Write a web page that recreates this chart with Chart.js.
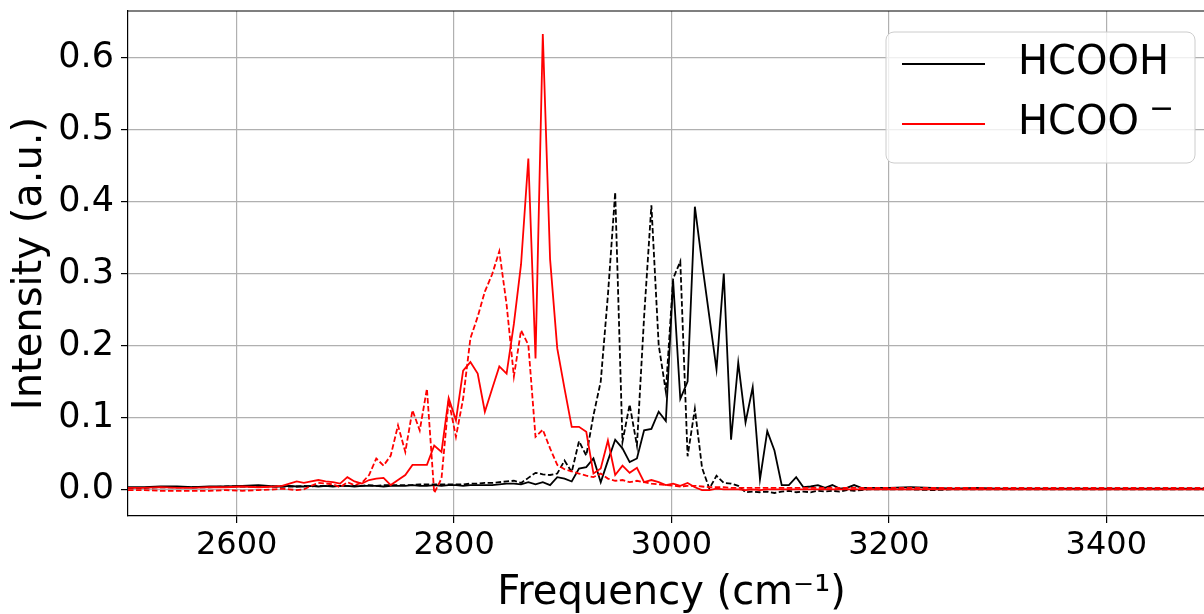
<!DOCTYPE html>
<html>
<head>
<meta charset="utf-8">
<script src="https://cdn.jsdelivr.net/npm/chart.js@4/dist/chart.umd.min.js"></script>
<style>
  html, body { margin: 0; padding: 0; overflow: hidden; background: #fff; }
  canvas { display: block; }
</style>
</head>
<body>
<canvas id="myChart" width="1215" height="614"></canvas>
<script>
// frequency grid (cm-1)
var freq = [
  2500, 2515, 2530, 2545, 2560, 2575, 2590, 2605, 2620, 2635,
  2641.8, 2648.5, 2655.2, 2661.8, 2668.5, 2675.1, 2681.8, 2688.5, 2695.1, 2701.8,
  2708.4, 2715.1, 2721.8, 2728.4, 2735.1, 2741.7, 2748.4, 2755.1, 2761.7, 2768.4,
  2775.0, 2781.7, 2788.4, 2795.0, 2801.7, 2808.3, 2815.0, 2821.7, 2828.3, 2835.0,
  2841.6, 2848.3, 2855.0, 2861.6, 2868.3, 2874.9, 2881.6, 2888.3, 2894.9, 2901.6,
  2908.2, 2914.9, 2921.6, 2928.2, 2934.9, 2941.5, 2948.2, 2954.9, 2961.5, 2968.2,
  2974.8, 2981.5, 2988.2, 2994.8, 3001.5, 3008.1, 3014.8, 3021.5, 3028.1, 3034.8,
  3041.4, 3048.1, 3054.8, 3061.4, 3068.1, 3074.7, 3081.4, 3088.1, 3094.7, 3101.4,
  3108.0, 3114.7, 3121.4, 3128.0, 3134.7, 3141.3, 3148.0, 3154.7, 3161.3, 3168.0,
  3174.6, 3181.3,
  3200, 3220, 3240, 3260, 3280, 3300, 3320, 3340, 3360, 3380, 3400, 3420, 3440, 3460, 3480, 3500
];

// HCOOH, solid
var hcoohSolid = [
  0.003, 0.003, 0.004, 0.004, 0.003, 0.004, 0.004, 0.005, 0.006, 0.004,
  0.004, 0.005, 0.004, 0.004, 0.005, 0.004, 0.005, 0.004, 0.005, 0.005,
  0.004, 0.005, 0.005, 0.005, 0.004, 0.005, 0.005, 0.005, 0.006, 0.005,
  0.005, 0.006, 0.005, 0.006, 0.006, 0.005, 0.006, 0.006, 0.006, 0.006,
  0.007, 0.008, 0.008, 0.007, 0.010, 0.007, 0.010, 0.006, 0.017, 0.015,
  0.011, 0.029, 0.031, 0.043, 0.010, 0.040, 0.069, 0.057, 0.038, 0.043,
  0.082, 0.084, 0.108, 0.095, 0.290, 0.126, 0.150, 0.393, 0.315, 0.240,
  0.167, 0.300, 0.069, 0.176, 0.093, 0.142, 0.014, 0.081, 0.054, 0.006,
  0.006, 0.017, 0.003, 0.004, 0.006, 0.002, 0.006, 0.001, 0.002, 0.006,
  0.002, 0.002,
  0.002, 0.003, 0.002, 0.001, 0.002, 0.001, 0.001, 0.001, 0.001, 0.001, 0.001, 0.001, 0.001, 0.001, 0.001, 0.001
];

// HCOOH, dashed
var hcoohDashed = [
  0.002, 0.002, 0.003, 0.003, 0.003, 0.003, 0.004, 0.004, 0.004, 0.004,
  0.004, 0.004, 0.004, 0.005, 0.004, 0.005, 0.005, 0.005, 0.005, 0.005,
  0.005, 0.005, 0.006, 0.005, 0.006, 0.006, 0.006, 0.006, 0.006, 0.007,
  0.007, 0.007, 0.007, 0.007, 0.007, 0.007, 0.008, 0.008, 0.009, 0.009,
  0.010, 0.011, 0.012, 0.009, 0.016, 0.023, 0.021, 0.020, 0.022, 0.040,
  0.024, 0.067, 0.047, 0.103, 0.150, 0.270, 0.413, 0.066, 0.118, 0.061,
  0.240, 0.395, 0.201, 0.136, 0.293, 0.317, 0.046, 0.112, 0.030, 0.001,
  0.019, 0.009, 0.008, 0.005, -0.004, -0.003, -0.004, -0.003, -0.005, -0.003,
  -0.002, -0.004, -0.003, -0.004, -0.002, -0.003, -0.002, -0.003, -0.001, -0.002,
  -0.001, 0.000,
  0.000, 0.000, -0.001, 0.000, 0.000, 0.000, 0.000, 0.000, 0.000, 0.000, 0.000, 0.000, 0.000, 0.000, 0.000, 0.000
];

// HCOO-, solid
var hcooSolid = [
  0.002, 0.002, 0.003, 0.002, 0.002, 0.003, 0.003, 0.004, 0.003, 0.004,
  0.005, 0.008, 0.011, 0.009, 0.011, 0.013, 0.011, 0.010, 0.008, 0.017,
  0.011, 0.008, 0.013, 0.015, 0.016, 0.006, 0.013, 0.020, 0.034, 0.034,
  0.034, 0.061, 0.052, 0.127, 0.096, 0.165, 0.177, 0.161, 0.108, 0.140,
  0.171, 0.161, 0.230, 0.313, 0.460, 0.182, 0.633, 0.320, 0.196, 0.140,
  0.087, 0.087, 0.080, 0.022, 0.029, 0.068, 0.020, 0.033, 0.023, 0.030,
  0.010, 0.013, 0.010, 0.006, 0.008, 0.005, 0.009, 0.003, -0.001, -0.001,
  0.001, 0.000, 0.000, 0.000, -0.001, 0.000, -0.001, 0.000, 0.000, 0.000,
  0.000, 0.000, 0.000, 0.000, 0.000, 0.000, 0.000, 0.000, 0.000, 0.000,
  0.000, 0.000,
  0.000, 0.000, 0.000, 0.000, 0.000, 0.000, 0.000, 0.000, 0.000, 0.000, 0.000, 0.000, 0.000, 0.000, 0.000, 0.000
];

// HCOO-, dashed
var hcooDashed = [
  -0.001, -0.001, -0.002, -0.002, -0.002, -0.002, -0.001, -0.002, -0.001, 0.000,
  0.001, 0.000, -0.001, 0.000, 0.005, 0.009, 0.008, 0.007, 0.003, 0.010,
  0.006, 0.009, 0.020, 0.043, 0.033, 0.047, 0.089, 0.052, 0.110, 0.082,
  0.140, -0.005, 0.015, 0.124, 0.073, 0.126, 0.210, 0.240, 0.275, 0.299,
  0.331, 0.257, 0.157, 0.221, 0.201, 0.073, 0.083, 0.057, 0.034, 0.028,
  0.025, 0.022, 0.019, 0.017, 0.022, 0.015, 0.012, 0.013, 0.010, 0.012,
  0.010, 0.008, 0.007, 0.006, 0.005, 0.004, 0.005, 0.005, 0.004, 0.003,
  0.003, 0.003, 0.002, 0.002, 0.002, 0.002, 0.002, 0.002, 0.002, 0.002,
  0.002, 0.002, 0.002, 0.002, 0.002, 0.002, 0.002, 0.002, 0.002, 0.002,
  0.002, 0.002,
  0.002, 0.002, 0.002, 0.002, 0.002, 0.002, 0.002, 0.002, 0.002, 0.002, 0.002, 0.002, 0.002, 0.002, 0.002, 0.002
];

var xTicks = [2600, 2800, 3000, 3200, 3400];
var yTicks = [0.0, 0.1, 0.2, 0.3, 0.4, 0.5, 0.6];
var legendLabels = ['HCOOH', 'HCOO'];

var FONT = 'DejaVu Sans';

function pts(ys) {
  return freq.map(function (f, i) { return {x: f, y: ys[i]}; });
}

// top spine + legend box
var framePlugin = {
  id: 'frame',
  afterDraw: function (chart) {
    var ctx = chart.ctx, a = chart.chartArea;
    ctx.save();
    ctx.strokeStyle = '#000';
    ctx.lineWidth = 1.2;
    ctx.beginPath();
    ctx.moveTo(a.left, a.top);
    ctx.lineTo(a.right, a.top);
    ctx.stroke();

    // legend
    var bx = 886, by = 32, bw = 309, bh = 131, r = 8;
    ctx.beginPath();
    ctx.moveTo(bx + r, by);
    ctx.arcTo(bx + bw, by, bx + bw, by + bh, r);
    ctx.arcTo(bx + bw, by + bh, bx, by + bh, r);
    ctx.arcTo(bx, by + bh, bx, by, r);
    ctx.arcTo(bx, by, bx + bw, by, r);
    ctx.closePath();
    ctx.fillStyle = 'rgba(255,255,255,0.8)';
    ctx.fill();
    ctx.strokeStyle = '#cccccc';
    ctx.lineWidth = 1;
    ctx.stroke();

    var rows = [{y: 64, color: '#000000'}, {y: 124, color: '#ff0000'}];
    ctx.textBaseline = 'middle';
    ctx.textAlign = 'left';
    rows.forEach(function (row, i) {
      ctx.strokeStyle = row.color;
      ctx.lineWidth = 1.8;
      ctx.beginPath();
      ctx.moveTo(902, row.y);
      ctx.lineTo(985, row.y);
      ctx.stroke();
      ctx.fillStyle = '#000';
      ctx.font = '40px "' + FONT + '"';
      ctx.fillText(legendLabels[i], 1018, row.y);
      if (i === 1) {
        var w = ctx.measureText(legendLabels[i]).width;
        ctx.font = '30px "' + FONT + '"';
        ctx.fillText('\u2212', 1018 + w + 10, row.y - 14);
      }
    });
    ctx.restore();
  }
};

var ctx = document.getElementById('myChart').getContext('2d');
var myChart = new Chart(ctx, {
  type: 'line',
  data: {
    datasets: [{
        data: pts(hcooDashed),
        borderColor: '#ff0000',
        borderWidth: 1.8,
        borderDash: [5.5, 2.5]
      }, {
        data: pts(hcooSolid),
        borderColor: '#ff0000',
        borderWidth: 1.8
      }, {
        data: pts(hcoohDashed),
        borderColor: '#000000',
        borderWidth: 1.8,
        borderDash: [5.5, 2.5]
      }, {
        data: pts(hcoohSolid),
        borderColor: '#000000',
        borderWidth: 1.8
      }
    ]
  },
  options: {
    responsive: false,
    animation: false,
    devicePixelRatio: 1,
    layout: { padding: { top: 11, right: 0, left: 0, bottom: 0 } },
    elements: { point: { radius: 0 }, line: { tension: 0 } },
    plugins: { legend: { display: false }, tooltip: { enabled: false } },
    scales: {
      x: {
        type: 'linear',
        min: 2500,
        max: 3500,
        afterBuildTicks: function (s) { s.ticks = xTicks.map(function (v) { return {value: v}; }); },
        afterFit: function (s) { s.height = 98; s.paddingLeft = 0; s.paddingRight = 0; },
        ticks: {
          font: { family: FONT, size: 32 },
          color: '#000',
          padding: 3,
          maxRotation: 0,
          autoSkip: false,
          callback: function (v) { return String(v); }
        },
        grid: { color: '#b0b0b0', lineWidth: 1.2, tickColor: '#000', tickLength: 7 },
        border: { color: '#000', width: 1.2 },
        title: {
          display: true,
          text: 'Frequency (cm\u207B\u00B9)',
          color: '#000',
          font: { family: FONT, size: 40, lineHeight: 1 },
          padding: { top: 0, bottom: 0 }
        }
      },
      y: {
        min: -0.037,
        max: 0.665,
        afterBuildTicks: function (s) { s.ticks = yTicks.map(function (v) { return {value: v}; }); },
        afterFit: function (s) { s.width = 128; s.paddingTop = 0; s.paddingBottom = 0; },
        ticks: {
          font: { family: FONT, size: 35 },
          color: '#000',
          padding: 7,
          callback: function (v) { return v.toFixed(1); }
        },
        grid: { color: '#b0b0b0', lineWidth: 1.2, tickColor: '#000', tickLength: 7 },
        border: { color: '#000', width: 1.2 },
        title: {
          display: true,
          text: 'Intensity (a.u.)',
          color: '#000',
          font: { family: FONT, size: 40, lineHeight: 1 },
          padding: { top: 11, bottom: 0 }
        }
      }
    }
  },
  plugins: [framePlugin]
});
</script>
</body>
</html>
